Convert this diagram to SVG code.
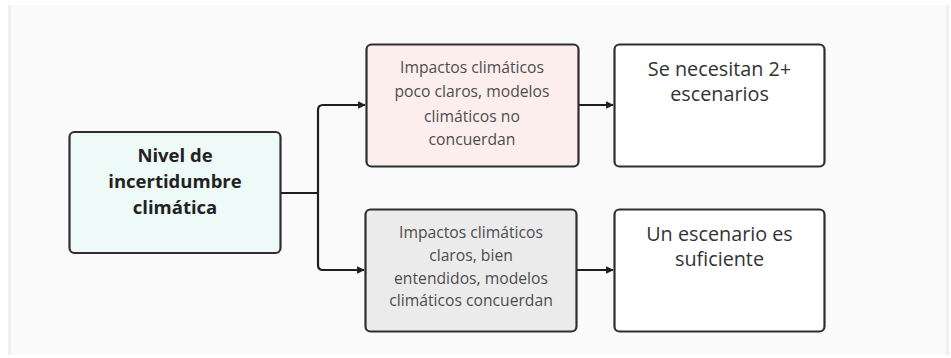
<svg xmlns="http://www.w3.org/2000/svg" width="951" height="358" viewBox="0 0 951 358">
<defs>
<style>
.box{stroke:#2e2e2e;stroke-width:2.2}
.t{font-family:"Open Sans","Liberation Sans",sans-serif;text-anchor:middle}
.mid{font-size:15.7px;fill:#4d4d4d}
.res{font-size:19.8px;fill:#333}
.main{font-size:18.5px;font-weight:bold;fill:#222}
.conn{fill:none;stroke:#1e1e1e;stroke-width:2.2}
</style>
<marker id="arr" viewBox="0 0 10 10" refX="9" refY="5" markerWidth="3.5" markerHeight="3.5" orient="auto" markerUnits="strokeWidth">
<path d="M0,0 L10,5 L0,10 z" fill="#1e1e1e"/>
</marker>
</defs>
<rect x="0" y="0" width="951" height="358" fill="#ffffff"/>
<rect x="8" y="5" width="941" height="350" fill="#fafafa"/>
<rect x="8" y="5" width="3" height="350" fill="#efefef"/>
<rect x="946" y="5" width="3" height="350" fill="#efefef"/>

<g id="connectors">
<path class="conn" d="M281,193 H318"/>
<path class="conn" d="M318,193 V110 Q318,105 323,105 H365" marker-end="url(#arr)"/>
<path class="conn" d="M318,193 V265 Q318,270 323,270 H364" marker-end="url(#arr)"/>
<path class="conn" d="M579,105 H613" marker-end="url(#arr)"/>
<path class="conn" d="M577,270 H613" marker-end="url(#arr)"/>
</g>

<g id="node-nivel">
<rect class="box" x="69.5" y="132" width="211" height="121" rx="5" fill="#eefaf8"/>
<text class="t main" x="175" y="162">Nivel de</text>
<text class="t main" x="175" y="188">incertidumbre</text>
<text class="t main" x="175" y="213.5">climática</text>
</g>

<g id="node-poco-claros">
<rect class="box" x="366.5" y="44.5" width="212" height="122" rx="5" fill="#fdeeee"/>
<text class="t mid" x="472" y="73">Impactos climáticos</text>
<text class="t mid" x="472" y="97">poco claros, modelos</text>
<text class="t mid" x="472" y="121.5">climáticos no</text>
<text class="t mid" x="472" y="145">concuerdan</text>
</g>

<g id="node-claros">
<rect class="box" x="365.5" y="209.5" width="211" height="122" rx="5" fill="#ebebeb"/>
<text class="t mid" x="471" y="238">Impactos climáticos</text>
<text class="t mid" x="471" y="261">claros, bien</text>
<text class="t mid" x="471" y="283.5">entendidos, modelos</text>
<text class="t mid" x="471" y="305.5">climáticos concuerdan</text>
</g>

<g id="node-dos-escenarios">
<rect class="box" x="614.5" y="44.5" width="210" height="122" rx="5" fill="#ffffff"/>
<text class="t res" x="719.5" y="75.5">Se necesitan 2+</text>
<text class="t res" x="719.5" y="100.5">escenarios</text>
</g>

<g id="node-un-escenario">
<rect class="box" x="614.5" y="209.5" width="210" height="122" rx="5" fill="#ffffff"/>
<text class="t res" x="719.5" y="240.5">Un escenario es</text>
<text class="t res" x="719.5" y="265.5">suficiente</text>
</g>
</svg>
